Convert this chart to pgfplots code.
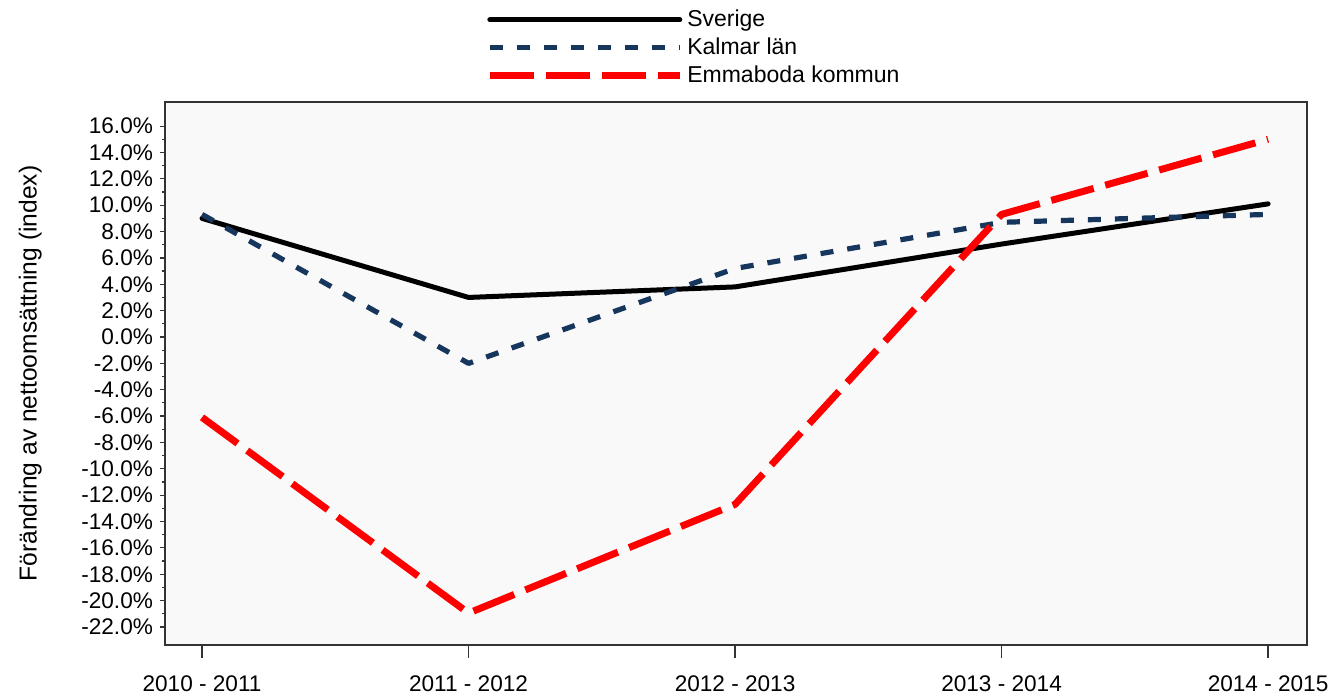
\documentclass[border=0pt]{standalone}
\usepackage{fontspec}
\setmainfont{Liberation Sans}
\usepackage{pgfplots}
\pgfplotsset{compat=1.18}
\definecolor{navy}{RGB}{23,54,93}
\definecolor{bgc}{RGB}{249,249,249}
\begin{document}
\begin{tikzpicture}
\begin{axis}[
  at={(0,0)}, anchor=south west,
  scale only axis, width=571pt, height=271.5pt,
  xmin=-0.139, xmax=4.146, ymin=-23.37, ymax=17.83,
  axis background/.style={fill=bgc},
  axis line style={black!80, line width=0.8pt},
  xtick={0,1,2,3,4},
  xticklabels={2010 - 2011, 2011 - 2012, 2012 - 2013, 2013 - 2014, 2014 - 2015},
  xtick style={draw=none},
  xticklabel style={yshift=-9.5pt},
  ytick={-22,-20,...,16},
  minor y tick num=1,
  tick align=outside,
  major tick length=2.5pt, minor tick length=1.5pt,
  ytick pos=left, xtick pos=bottom,
  tick style={black!80, line width=0.6pt},
  yticklabel={\pgfmathprintnumber[fixed,fixed zerofill,precision=1]{\tick}\%},
  /pgf/number format/assume math mode=true,
  tick label style={font=\fontsize{11.3}{13}\selectfont},
  ylabel={Förändring av nettoomsättning (index)},
  ylabel style={font=\fontsize{12.3}{14}\selectfont, at={(axis description cs:-0.118,0.5)}, anchor=center},
  clip=false,
  legend style={at={(axis description cs:0.281,1.023)}, anchor=south west, draw=none, fill=none,
    font=\fontsize{11.5}{13.5}\selectfont, row sep=0pt, inner sep=0pt,
    /tikz/every even column/.append style={column sep=7pt}},
  legend cell align=left,
  legend image code/.code={\draw[#1] (0pt,0pt) -- (95pt,0pt);},
]
\addplot[black, line width=2.5pt, line cap=round, line join=round]
  coordinates {(0,9.0) (1,3.0) (2,3.8) (3,7.05) (4,10.1)};
\addlegendentry{Sverige}
\addplot[navy, line width=2.6pt, dash pattern=on 6.5pt off 7pt, line join=round]
  coordinates {(0,9.3) (1,-2.0) (2,5.2) (3,8.7) (4,9.3)};
\addlegendentry{Kalmar län}
\addplot[red, line width=3.5pt, dash pattern=on 22pt off 6pt, line join=round]
  coordinates {(0,-6.1) (1,-20.95) (2,-12.7) (3,9.3) (4,15.0)};
\addlegendentry{Emmaboda kommun}
\pgfplotsinvokeforeach{0,1,2,3,4}{
  \draw[black!80, line width=0.6pt] (axis cs:#1,-23.37) -- ([yshift=-6.5pt]axis cs:#1,-23.37);
}
\end{axis}
\useasboundingbox (-82.5pt,-24pt) rectangle (589pt,322.5pt);
\end{tikzpicture}
\end{document}
